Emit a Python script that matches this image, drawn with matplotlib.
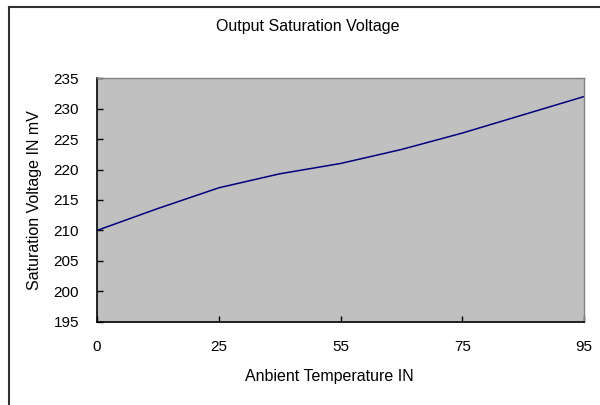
import matplotlib
matplotlib.use("Agg")
import matplotlib.pyplot as plt
from matplotlib.lines import Line2D

plt.rcParams['font.family'] = ['Liberation Sans', 'DejaVu Sans']

# 9 measurement points, only every other one is labelled on the axis
volts = [210, 213.6, 217, 219.3, 221, 223.3, 226, 229, 232]
shown_labels = ['0', '25', '55', '75', '95']
yticks = [195, 200, 205, 210, 215, 220, 225, 230, 235]

fig = plt.figure(figsize=(6, 4.05), dpi=100)
ax = fig.add_axes([97/600, 1 - 321.7/405, (584 - 97)/600, (321.7 - 78.3)/405])
ax.set_facecolor('#c0c0c0')

idx = list(range(len(volts)))
ax.plot(idx, volts, color='#000080', lw=1.1)

ax.set_xlim(0, len(volts) - 1)
ax.set_ylim(195, 235)
ax.set_xticks(idx[::2])
ax.set_xticklabels(shown_labels)
ax.set_yticks(yticks)
ax.tick_params(direction='in', length=4, width=1, labelsize=11, color='black', pad=13)

for s in ['left', 'bottom']:
    ax.spines[s].set_color('black')
    ax.spines[s].set_linewidth(1.2)
for s in ['top', 'right']:
    ax.spines[s].set_color('#808080')
    ax.spines[s].set_linewidth(1.0)

fig.text(308/600, 1 - 27/405, 'Output Saturation Voltage', ha='center', va='center', fontsize=11.5)
fig.text(329/600, 1 - 377/405, 'Anbient Temperature IN', ha='center', va='center', fontsize=11.5)
fig.text(35/600, 1 - 200/405, 'Saturation Voltage IN mV', ha='center', va='center',
         rotation=90, fontsize=11.5)

# chart area border (only left and top visible in the picture)
fig.add_artist(Line2D([8.5/600, 8.5/600], [0, 1 - 7/405], transform=fig.transFigure,
                      color='#303030', lw=1.5))
fig.add_artist(Line2D([8.5/600, 1], [1 - 7/405, 1 - 7/405], transform=fig.transFigure,
                      color='#303030', lw=1.5))

fig.savefig('out.png', dpi=100)
